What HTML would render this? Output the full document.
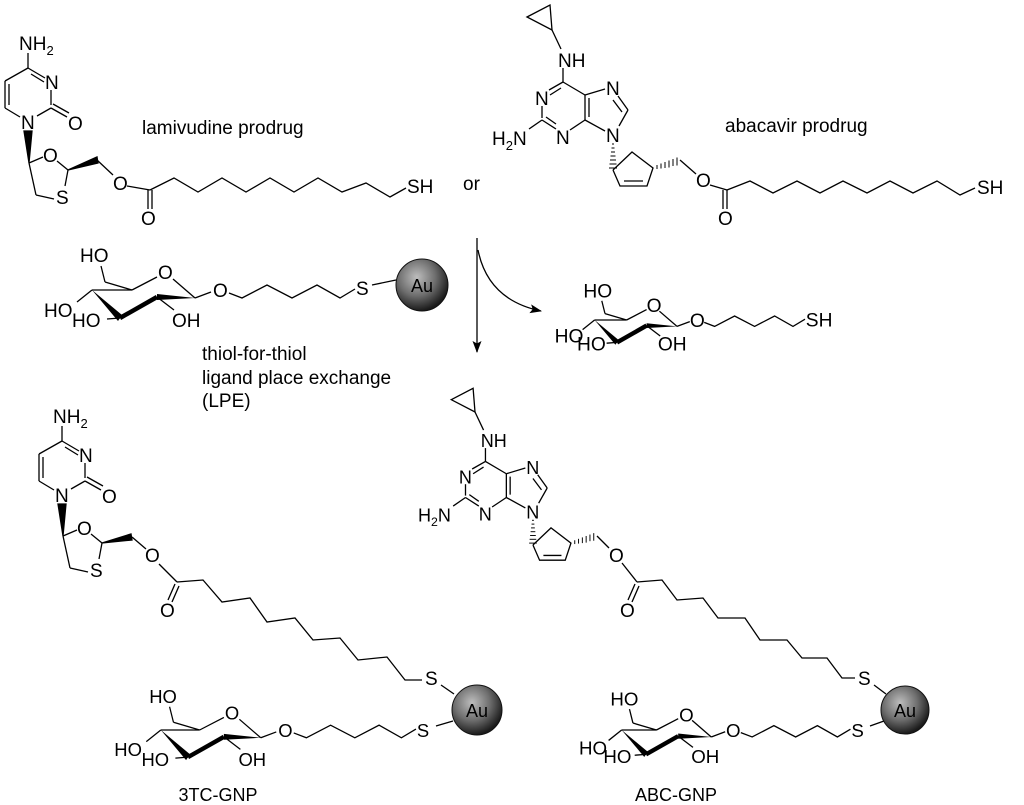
<!DOCTYPE html>
<html><head><meta charset="utf-8"><style>
html,body{margin:0;padding:0;background:#fff;}
svg{display:block;}
text{font-family:"Liberation Sans",Arial,sans-serif;fill:#000;}
</style></head><body>
<svg width="1024" height="805" viewBox="0 0 1024 805" xmlns="http://www.w3.org/2000/svg">
<defs>
<radialGradient id="au" cx="40%" cy="35%" r="65%">
<stop offset="0" stop-color="#bdbdbd"/><stop offset="0.55" stop-color="#6e6e6e"/><stop offset="1" stop-color="#1a1a1a"/>
</radialGradient>
<marker id="ah" markerWidth="12" markerHeight="9" refX="11" refY="4.5" orient="auto" markerUnits="userSpaceOnUse"><path d="M0,0 L12,4.5 L0,9 L2.5,4.5z" fill="#000"/></marker>
</defs>
<g stroke="#000" stroke-width="1.3" fill="none">

<g>
<line x1="28" y1="68" x2="28" y2="53"/>
<line x1="28" y1="68" x2="45" y2="78"/><line x1="31" y1="74" x2="44" y2="82"/>
<line x1="51" y1="90" x2="51" y2="105"/>
<line x1="51" y1="108" x2="67" y2="117"/><line x1="53" y1="104" x2="69" y2="113"/>
<line x1="51" y1="108" x2="37" y2="116"/>
<line x1="20" y1="117" x2="5" y2="108"/>
<line x1="5" y1="108" x2="5" y2="81"/><line x1="9" y1="105" x2="9" y2="84"/>
<line x1="5" y1="81" x2="28" y2="68"/>
<polygon points="24,131 32,131 29,163" fill="#000"/>
<line x1="29" y1="163" x2="43" y2="157"/>
<line x1="57" y1="161" x2="68" y2="170"/>
<line x1="68" y1="170" x2="65" y2="186"/>
<line x1="54" y1="199" x2="36" y2="195"/>
<line x1="36" y1="195" x2="29" y2="163"/>
<polygon points="68,170 97,157 98,163" fill="#000"/>
<g stroke="none" font-size="19" fill="#000">
<text x="19" y="50">NH<tspan font-size="13" dy="5">2</tspan></text>
<text x="45" y="89">N</text>
<text x="68" y="130">O</text>
<text x="21" y="129">N</text>
<text x="43" y="162">O</text>
<text x="56" y="204">S</text>
</g>
</g>
<line x1="97" y1="160" x2="113" y2="175"/>
<line x1="127" y1="186" x2="150" y2="190"/>
<line x1="148" y1="190" x2="148" y2="209"/><line x1="152" y1="190" x2="152" y2="209"/>
<polyline points="150,190 174,178 198,192 222,178 246,192 270,178 294,192 318,178 342,192 366,183 390,197 406,188"/>

<g>
<polygon points="527,17 550,5 552,30"/>
<line x1="552" y1="30" x2="561" y2="49"/>
<line x1="563" y1="68" x2="563" y2="82"/>
<line x1="563" y1="82" x2="549" y2="90"/><line x1="561" y1="88" x2="550" y2="95"/>
<line x1="542" y1="106" x2="542" y2="118"/>
<line x1="542" y1="120" x2="556" y2="129"/><line x1="546" y1="117" x2="556" y2="124"/>
<line x1="570" y1="130" x2="585" y2="120"/>
<line x1="585" y1="120" x2="585" y2="95"/><line x1="589" y1="117" x2="589" y2="98"/>
<line x1="585" y1="95" x2="563" y2="82"/>
<line x1="585" y1="95" x2="605" y2="89"/>
<line x1="618" y1="96" x2="628" y2="110"/><line x1="613" y1="100" x2="622" y2="112"/>
<line x1="628" y1="110" x2="619" y2="126"/>
<line x1="605" y1="131" x2="585" y2="120"/>
<line x1="542" y1="120" x2="529" y2="129"/>
<g stroke-width="1">
<line x1="612" y1="144" x2="614" y2="144"/><line x1="611.5" y1="148" x2="614.5" y2="148"/><line x1="611" y1="152" x2="615" y2="152"/><line x1="610.5" y1="156" x2="615.5" y2="156"/><line x1="610" y1="160" x2="616" y2="160"/><line x1="609.5" y1="164" x2="616.5" y2="164"/><line x1="609" y1="168" x2="617" y2="168"/>
<line x1="657" y1="165" x2="657" y2="169"/><line x1="661" y1="163.5" x2="661" y2="168.5"/><line x1="665" y1="162" x2="665" y2="168"/><line x1="669" y1="160.5" x2="669" y2="167.5"/><line x1="673" y1="159" x2="673" y2="166"/><line x1="677" y1="157.5" x2="677" y2="165.5"/>
</g>
<polyline points="613,170 632,152 653,168 647,186 620,186 613,170"/>
<line x1="624" y1="181" x2="643" y2="181"/>
<g stroke="none" font-size="19" fill="#000">
<text x="558" y="67">NH</text>
<text x="535" y="105">N</text>
<text x="556" y="144">N</text>
<text x="606" y="95">N</text>
<text x="606" y="142">N</text>
<text x="492" y="145">H<tspan font-size="13" dy="5">2</tspan><tspan dy="-5">N</tspan></text>
</g>
</g>
<line x1="680" y1="160" x2="696" y2="174"/>
<line x1="710" y1="185" x2="727" y2="190"/>
<line x1="723" y1="190" x2="723" y2="209"/><line x1="727" y1="190" x2="727" y2="209"/>
<polyline points="727,190 750,181 773,193 797,181 820,193 843,181 867,193 890,181 913,193 937,181 960,195 975,188"/>

<g transform="translate(220,290)">
<line x1="-128" y1="0" x2="-88" y2="0"/>
<line x1="-88" y1="0" x2="-115" y2="-8"/>
<line x1="-115" y1="-8" x2="-119" y2="-24"/>
<line x1="-88" y1="0" x2="-63" y2="-13"/>
<line x1="-47" y1="-11" x2="-25" y2="8"/>
<line x1="-128" y1="0" x2="-143" y2="12"/>
<polygon points="-128,0 -102,31 -98,25" fill="#000" stroke="none"/>
<line x1="-100" y1="28" x2="-63" y2="7" stroke-width="4.5"/>
<polygon points="-63,4 -63,10 -25,8" fill="#000" stroke="none"/>
<line x1="-100" y1="28" x2="-113" y2="29"/>
<line x1="-63" y1="7" x2="-46" y2="20"/>
<line x1="-25" y1="8" x2="-9" y2="2"/>
<polyline points="9,3 22,8 47,-5 72,8 97,-5 120,8 135,-1"/>
<g stroke="none" font-size="19" fill="#000">
<text x="-140" y="-28">HO</text>
<text x="-62" y="-11">O</text>
<text x="-176" y="27">HO</text>
<text x="-148" y="37">HO</text>
<text x="-48" y="37">OH</text>
<text x="-7" y="7">O</text>
<text x="136" y="5">S</text>
</g>
</g>
<line x1="372" y1="285" x2="396" y2="280"/>

<g transform="translate(697,320) scale(0.8)" stroke-width="1.6">
<line x1="-128" y1="0" x2="-88" y2="0"/>
<line x1="-88" y1="0" x2="-115" y2="-8"/>
<line x1="-115" y1="-8" x2="-119" y2="-24"/>
<line x1="-88" y1="0" x2="-63" y2="-13"/>
<line x1="-47" y1="-11" x2="-25" y2="8"/>
<line x1="-128" y1="0" x2="-143" y2="12"/>
<polygon points="-128,0 -102,31 -98,25" fill="#000" stroke="none"/>
<line x1="-100" y1="28" x2="-63" y2="7" stroke-width="5.5"/>
<polygon points="-63,4 -63,10 -25,8" fill="#000" stroke="none"/>
<line x1="-100" y1="28" x2="-113" y2="29"/>
<line x1="-63" y1="7" x2="-46" y2="20"/>
<line x1="-25" y1="8" x2="-9" y2="2"/>
<polyline points="9,3 22,8 47,-5 72,8 97,-5 120,8 135,-1"/>
<g stroke="none" font-size="24" fill="#000">
<text x="-142" y="-28">HO</text>
<text x="-63" y="-10">O</text>
<text x="-178" y="28">HO</text>
<text x="-150" y="38">HO</text>
<text x="-49" y="38">OH</text>
<text x="-9" y="9">O</text>
<text x="136" y="8">SH</text>
</g>
</g>

<g transform="translate(285,730) scale(0.97)">
<line x1="-128" y1="0" x2="-88" y2="0"/>
<line x1="-88" y1="0" x2="-115" y2="-8"/>
<line x1="-115" y1="-8" x2="-119" y2="-24"/>
<line x1="-88" y1="0" x2="-63" y2="-13"/>
<line x1="-47" y1="-11" x2="-25" y2="8"/>
<line x1="-128" y1="0" x2="-143" y2="12"/>
<polygon points="-128,0 -102,31 -98,25" fill="#000" stroke="none"/>
<line x1="-100" y1="28" x2="-63" y2="7" stroke-width="4.5"/>
<polygon points="-63,4 -63,10 -25,8" fill="#000" stroke="none"/>
<line x1="-100" y1="28" x2="-113" y2="29"/>
<line x1="-63" y1="7" x2="-46" y2="20"/>
<line x1="-25" y1="8" x2="-9" y2="2"/>
<polyline points="9,3 22,8 47,-5 72,8 97,-5 120,8 135,-1"/>
<g stroke="none" font-size="19" fill="#000">
<text x="-140" y="-28">HO</text>
<text x="-62" y="-11">O</text>
<text x="-176" y="27">HO</text>
<text x="-148" y="37">HO</text>
<text x="-48" y="37">OH</text>
<text x="-7" y="7">O</text>
<text x="136" y="7">S</text>
</g>
</g>

<g transform="translate(733,730) scale(0.87)" stroke-width="1.5">
<line x1="-128" y1="0" x2="-88" y2="0"/>
<line x1="-88" y1="0" x2="-115" y2="-8"/>
<line x1="-115" y1="-8" x2="-119" y2="-24"/>
<line x1="-88" y1="0" x2="-63" y2="-13"/>
<line x1="-47" y1="-11" x2="-25" y2="8"/>
<line x1="-128" y1="0" x2="-143" y2="12"/>
<polygon points="-128,0 -102,31 -98,25" fill="#000" stroke="none"/>
<line x1="-100" y1="28" x2="-63" y2="7" stroke-width="5"/>
<polygon points="-63,4 -63,10 -25,8" fill="#000" stroke="none"/>
<line x1="-100" y1="28" x2="-113" y2="29"/>
<line x1="-63" y1="7" x2="-46" y2="20"/>
<line x1="-25" y1="8" x2="-9" y2="2"/>
<polyline points="9,3 22,8 47,-5 72,8 97,-5 120,8 135,-1"/>
<g stroke="none" font-size="21.5" fill="#000">
<text x="-141" y="-28">HO</text>
<text x="-62" y="-10">O</text>
<text x="-177" y="28">HO</text>
<text x="-149" y="38">HO</text>
<text x="-48" y="38">OH</text>
<text x="-8" y="8">O</text>
<text x="136" y="8">S</text>
</g>
</g>

<g transform="translate(34,373)">
<line x1="28" y1="68" x2="28" y2="53"/>
<line x1="28" y1="68" x2="45" y2="78"/><line x1="31" y1="74" x2="44" y2="82"/>
<line x1="51" y1="90" x2="51" y2="105"/>
<line x1="51" y1="108" x2="67" y2="117"/><line x1="53" y1="104" x2="69" y2="113"/>
<line x1="51" y1="108" x2="37" y2="116"/>
<line x1="20" y1="117" x2="5" y2="108"/>
<line x1="5" y1="108" x2="5" y2="81"/><line x1="9" y1="105" x2="9" y2="84"/>
<line x1="5" y1="81" x2="28" y2="68"/>
<polygon points="24,131 32,131 29,163" fill="#000"/>
<line x1="29" y1="163" x2="43" y2="157"/>
<line x1="57" y1="161" x2="68" y2="170"/>
<line x1="68" y1="170" x2="65" y2="186"/>
<line x1="54" y1="199" x2="36" y2="195"/>
<line x1="36" y1="195" x2="29" y2="163"/>
<polygon points="68,170 97,161 98,167" fill="#000"/>
<g stroke="none" font-size="19" fill="#000">
<text x="19" y="50">NH<tspan font-size="13" dy="5">2</tspan></text>
<text x="45" y="89">N</text>
<text x="68" y="130">O</text>
<text x="21" y="129">N</text>
<text x="43" y="162">O</text>
<text x="56" y="204">S</text>
</g>
</g>
<line x1="132" y1="537" x2="146" y2="549"/>
<line x1="159" y1="564" x2="177" y2="582"/>
<line x1="175" y1="584" x2="168" y2="600"/><line x1="179" y1="586" x2="172" y2="602"/>
<polyline points="177,582 203,580 222,602 250,598 267,622 295,618 313,640 340,638 358,660 387,657 405,680 422,680"/>
<line x1="441" y1="685" x2="454" y2="694"/>
<line x1="436" y1="726" x2="453" y2="721"/>

<g transform="translate(-49.4,383.5) scale(0.95)" stroke-width="1.37">
<polygon points="527,17 550,5 552,30"/>
<line x1="552" y1="30" x2="561" y2="49"/>
<line x1="563" y1="68" x2="563" y2="82"/>
<line x1="563" y1="82" x2="549" y2="90"/><line x1="561" y1="88" x2="550" y2="95"/>
<line x1="542" y1="106" x2="542" y2="118"/>
<line x1="542" y1="120" x2="556" y2="129"/><line x1="546" y1="117" x2="556" y2="124"/>
<line x1="570" y1="130" x2="585" y2="120"/>
<line x1="585" y1="120" x2="585" y2="95"/><line x1="589" y1="117" x2="589" y2="98"/>
<line x1="585" y1="95" x2="563" y2="82"/>
<line x1="585" y1="95" x2="605" y2="89"/>
<line x1="618" y1="96" x2="628" y2="110"/><line x1="613" y1="100" x2="622" y2="112"/>
<line x1="628" y1="110" x2="619" y2="126"/>
<line x1="605" y1="131" x2="585" y2="120"/>
<line x1="542" y1="120" x2="529" y2="129"/>
<g stroke-width="1">
<line x1="612" y1="144" x2="614" y2="144"/><line x1="611.5" y1="148" x2="614.5" y2="148"/><line x1="611" y1="152" x2="615" y2="152"/><line x1="610.5" y1="156" x2="615.5" y2="156"/><line x1="610" y1="160" x2="616" y2="160"/><line x1="609.5" y1="164" x2="616.5" y2="164"/><line x1="609" y1="168" x2="617" y2="168"/>
<line x1="657" y1="165" x2="657" y2="169"/><line x1="661" y1="163.5" x2="661" y2="168.5"/><line x1="665" y1="162" x2="665" y2="168"/><line x1="669" y1="160.5" x2="669" y2="167.5"/><line x1="673" y1="159" x2="673" y2="166"/><line x1="677" y1="157.5" x2="677" y2="165.5"/>
</g>
<polyline points="613,170 632,152 653,168 647,186 620,186 613,170"/>
<line x1="624" y1="181" x2="643" y2="181"/>
<g stroke="none" font-size="19" fill="#000">
<text x="558" y="67">NH</text>
<text x="535" y="105">N</text>
<text x="556" y="144">N</text>
<text x="606" y="95">N</text>
<text x="606" y="142">N</text>
<text x="492" y="145">H<tspan font-size="13" dy="5">2</tspan><tspan dy="-5">N</tspan></text>
</g>
</g>
<line x1="597" y1="536" x2="609" y2="548"/>
<line x1="622" y1="563" x2="637" y2="582"/>
<line x1="635" y1="584" x2="628" y2="600"/><line x1="639" y1="586" x2="632" y2="602"/>
<polyline points="637,582 662,580 677,600 703,598 718,618 745,618 760,640 787,640 802,658 827,658 842,678 855,678"/>
<line x1="874" y1="685" x2="886" y2="694"/>
<line x1="870" y1="726" x2="884" y2="721"/>

<line x1="477" y1="238" x2="477" y2="352" marker-end="url(#ah)"/>
<path d="M478,250 Q488,300 541,311" marker-end="url(#ah)"/>
</g>

<circle cx="422" cy="285" r="26" fill="url(#au)" stroke="#111" stroke-width="1"/>
<circle cx="477" cy="710" r="25" fill="url(#au)" stroke="#111" stroke-width="1"/>
<circle cx="905" cy="710" r="24" fill="url(#au)" stroke="#111" stroke-width="1"/>
<g font-size="18">
<text x="422" y="292" text-anchor="middle">Au</text>
<text x="477" y="717" text-anchor="middle">Au</text>
<text x="905" y="717" text-anchor="middle">Au</text>
</g>
<g font-size="19">
<text x="425" y="685">S</text>
<text x="858" y="685">S</text>
<text x="113" y="190">O</text>
<text x="141" y="225">O</text>
<text x="696" y="187">O</text>
<text x="718" y="225">O</text>
<text x="407" y="193">SH</text>
<text x="977" y="194">SH</text>
<text x="145" y="562">O</text>
<text x="160" y="617">O</text>
<text x="609" y="562">O</text>
<text x="620" y="617">O</text>
</g>
<g font-size="19">
<text x="142" y="134">lamivudine prodrug</text>
<text x="725" y="132">abacavir prodrug</text>
<text x="463" y="190">or</text>
<text x="202" y="360">thiol-for-thiol</text>
<text x="202" y="384">ligand place exchange</text>
<text x="202" y="407">(LPE)</text>
</g>
<g font-size="18">
<text x="218" y="801" text-anchor="middle">3TC-GNP</text>
<text x="676" y="801" text-anchor="middle">ABC-GNP</text>
</g>
</svg>
</body></html>
